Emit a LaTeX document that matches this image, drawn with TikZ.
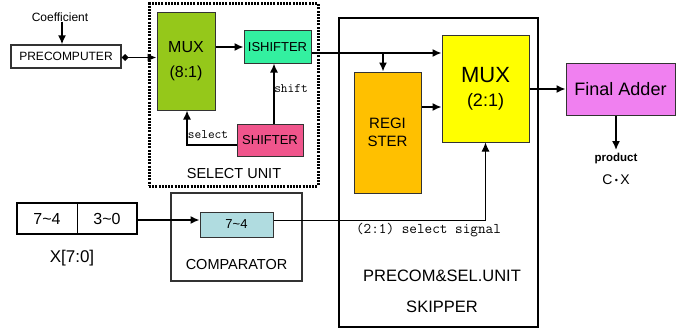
\documentclass[tikz,border=0pt]{standalone}
\usepackage{fontspec}
\setmainfont{Liberation Sans}
\usetikzlibrary{arrows.meta}
\definecolor{muxgreen}{HTML}{95C81A}
\definecolor{ishcol}{HTML}{33F0A0}
\definecolor{shcol}{HTML}{F0558C}
\definecolor{regcol}{HTML}{FFC000}
\definecolor{muxyel}{HTML}{FFFF00}
\definecolor{addcol}{HTML}{F080F0}
\definecolor{cmpcol}{HTML}{B0DCE0}
\newcommand{\fs}[1]{\fontsize{#1}{#1}\selectfont}
\tikzset{
  blk/.style={draw=black!80, line width=1pt, inner sep=0pt},
  lbl/.style={inner sep=0pt},
  arr/.style={line width=1.5pt, -{Latex[length=9pt,width=8pt]}},
}
\begin{document}
\begin{tikzpicture}[x=1pt,y=-1pt]
\useasboundingbox (0,0) rectangle (684,329);
\fill[white] (0,0) rectangle (684,329);

% Precomputer
\node[lbl, font=\fs{12}] (coef) at (60,17) {Coefficient};
\node[blk, line width=1.4pt, minimum width=110pt, minimum height=23pt, font=\fs{12}] (pre) at (66,56.5) {PRECOMPUTER};
\draw[arr] ([xshift=2pt]coef.south) -- ([xshift=-4pt]pre.north);

% Select unit
\node[draw, line width=3pt, dash pattern=on 2pt off 1.2pt, minimum width=169pt, minimum height=182pt, inner sep=0pt] (selu) at (233.5,95) {};
\node[blk, fill=muxgreen, minimum width=58pt, minimum height=97pt, align=center, font=\fs{16}] (mux8) at (186,61.5) {MUX\\[9pt](8:1)};
\node[blk, fill=ishcol, minimum width=67pt, minimum height=32pt, font=\fs{13}] (ish) at (277.5,47) {ISHIFTER};
\node[blk, fill=shcol, minimum width=66pt, minimum height=32pt, font=\fs{13}] (sh) at (270,140) {SHIFTER};
\node[lbl, font=\fs{14.5}] (sellbl) at (234,174) {SELECT UNIT};
\draw[line width=1.8pt, {Diamond[length=7pt,width=7pt]}-{Latex[length=9pt,width=8pt]}] ([yshift=-1pt]pre.east) -- ([yshift=-1pt]pre.east -| mux8.west);
\draw[arr] (mux8.east |- ish.west) -- (ish.west);
\coordinate (shtop) at (274,124);
\draw[arr] (shtop) -- (shtop |- ish.south);
\node[lbl, font=\ttfamily\fs{13}] (shiftlbl) at (291,89) {shift};
\coordinate (selc) at (187,145);
\draw[arr] (selc -| sh.west) -- (selc) -- (selc |- mux8.south);
\node[lbl, font=\ttfamily\fs{13}] (sellab) at (208,135) {select};

% Skipper
\node[draw, line width=2.5pt, minimum width=199pt, minimum height=309pt, inner sep=0pt] (skip) at (438.5,172.5) {};
\node[blk, fill=regcol, minimum width=67pt, minimum height=121pt, align=center, font=\fs{15}] (reg) at (387.5,132.5) {REGI\\[3pt]STER};
\node[blk, fill=muxyel, minimum width=87pt, minimum height=106pt, align=center] (mux2) at (485.5,89) {{\fs{22}MUX}\\[10pt]{\fs{18}(2:1)}};
\node[blk, fill=addcol, minimum width=109pt, minimum height=52pt, font=\fs{18}] (add) at (620.5,89) {Final Adder};
\coordinate (iso) at ([yshift=-6pt]ish.east);
\draw[arr] (iso) -- (iso -| mux2.west);
\coordinate (br) at (383,53);
\draw[arr] (br) -- (br |- reg.north);
\draw[arr] (reg.east |- 0,107) -- (mux2.west |- 0,107);
\draw[arr] (mux2.east) -- (add.west);
\coordinate (prodtop) at (616,150);
\draw[arr] (add.south -| prodtop) -- (prodtop);
\node[lbl, font=\bfseries\fs{11.5}] (prod) at (616,159) {product};
\node[lbl, font=\fs{14}] (cx) at (616,180) {C\,\raisebox{1pt}{\fs{9}\textbullet}\,X};
\node[lbl, font=\ttfamily\fs{14.8}] (sigl) at (428.5,230) {(2:1) select signal};
\node[lbl, font=\fs{16.5}] (pslbl) at (442,276) {PRECOM\&SEL.UNIT};
\node[lbl, font=\fs{16.5}] (skl) at (442,307) {SKIPPER};

% X register and comparator
\node[draw, line width=2pt, minimum width=120pt, minimum height=31pt, inner sep=0pt] (xbox) at (77,218.5) {};
\draw[line width=0.8pt] (xbox.north) -- (xbox.south);
\node[lbl, font=\fs{16}] (xh) at (47,218.5) {7\textasciitilde 4};
\node[lbl, font=\fs{16}] (xl) at (107,218.5) {3\textasciitilde 0};
\node[lbl, font=\fs{17}] (xlbl) at (72,258) {X[7:0]};
\node[blk, line width=1.4pt, minimum width=131pt, minimum height=88pt] (cmp) at (236.5,237) {};
\node[blk, fill=cmpcol, minimum width=73pt, minimum height=25pt, font=\fs{13}] (cin) at (236.5,224.5) {7\textasciitilde 4};
\node[lbl, font=\fs{14.5}] (cmplbl) at (236.5,265) {COMPARATOR};
\draw[arr] ([yshift=-1.5pt]xbox.east) -- ([yshift=4.5pt]cin.west);
\draw[line width=0.9pt, -{Latex[length=9pt,width=8pt]}] ([yshift=4.5pt]cin.east) -| (mux2.south);
\end{tikzpicture}
\end{document}
